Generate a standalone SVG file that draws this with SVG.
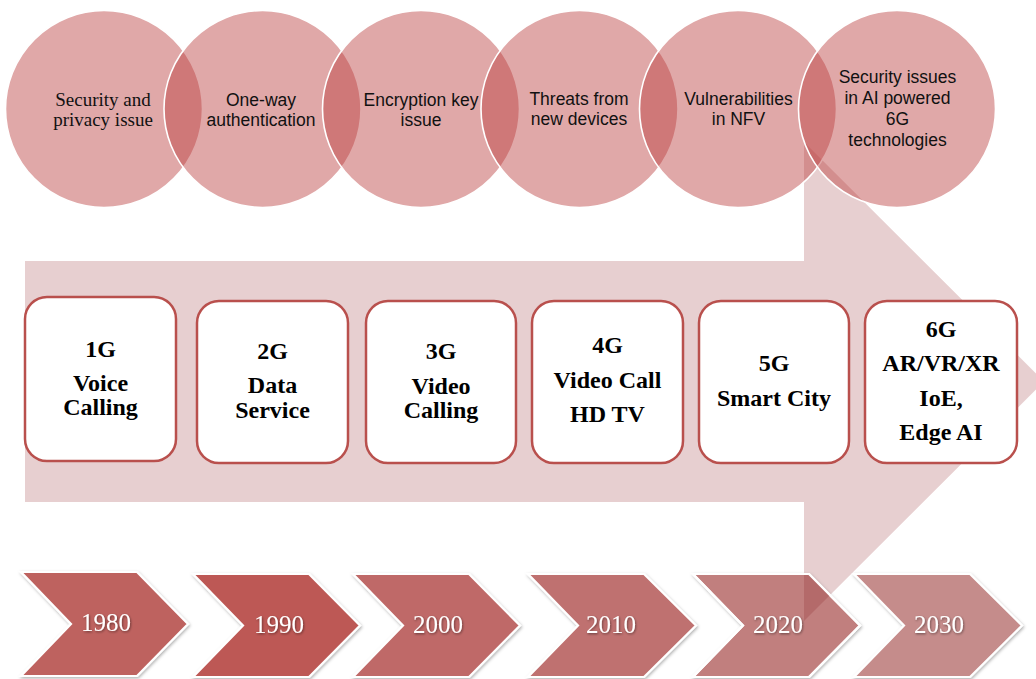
<svg xmlns="http://www.w3.org/2000/svg" width="1036" height="679" viewBox="0 0 1036 679">
<defs>
<style>
.circ{fill:#ba3d3d;fill-opacity:0.45;stroke:#ffffff;stroke-width:1.6}
.ct{font-family:"Liberation Sans",Arial,sans-serif;font-size:17.5px;fill:#111;text-anchor:middle}
.ctser{font-family:"Liberation Serif","Times New Roman",serif;font-size:19px;fill:#111;text-anchor:middle}
.box{fill:#ffffff;stroke:#b9504d;stroke-width:2.5}
.bt{font-family:"Liberation Serif","Times New Roman",serif;font-weight:bold;font-size:24px;fill:#000;text-anchor:middle}
.chev{stroke:#ffffff;stroke-width:2.2;stroke-linejoin:miter}
.yr{font-family:"Liberation Serif","Times New Roman",serif;font-size:25px;fill:#ffffff;text-anchor:middle}
</style>
<filter id="sh" x="-10%" y="-10%" width="130%" height="130%">
<feDropShadow dx="1" dy="1.5" stdDeviation="1.5" flood-color="#000" flood-opacity="0.3"/>
</filter>
<filter id="tsh" x="-10%" y="-20%" width="130%" height="150%">
<feDropShadow dx="0.8" dy="1.2" stdDeviation="0.8" flood-color="#000" flood-opacity="0.45"/>
</filter>
<clipPath id="clip2020"><polygon points="693,574 809,574 860,625.5 809,677 693,677 743,625.5"/></clipPath>
</defs>
<rect width="1036" height="679" fill="#ffffff"/>

<g id="connectors">
<polygon id="timeline-arrow" points="25,261 804,261 804,142 1044,381.5 804,621 804,502 25,502" fill="#e7cfd0"/>
</g>

<g id="issue-1"><circle class="circ" cx="104" cy="109" r="98.5"/>
<text class="ctser" x="103" y="106">Security and</text><text class="ctser" x="103" y="126">privacy issue</text></g>
<g id="issue-2"><circle class="circ" cx="262.5" cy="109" r="98.5"/>
<text class="ct" x="261" y="106">One-way</text><text class="ct" x="261" y="126">authentication</text></g>
<g id="issue-3"><circle class="circ" cx="421" cy="109" r="98.5"/>
<text class="ct" x="421" y="106">Encryption key</text><text class="ct" x="421" y="126">issue</text></g>
<g id="issue-4"><circle class="circ" cx="579.5" cy="109" r="98.5"/>
<text class="ct" x="579" y="105">Threats from</text><text class="ct" x="579" y="125">new devices</text></g>
<g id="issue-5"><circle class="circ" cx="738" cy="109" r="98.5"/>
<text class="ct" x="738.5" y="105">Vulnerabilities</text><text class="ct" x="738.5" y="125">in NFV</text></g>
<g id="issue-6"><circle class="circ" cx="897" cy="109" r="98.5"/>
<text class="ct" x="897.5" y="83">Security issues</text><text class="ct" x="897.5" y="104">in AI powered</text><text class="ct" x="897.5" y="125">6G</text><text class="ct" x="897.5" y="146">technologies</text></g>

<g id="gen-1G"><rect class="box" x="25" y="297" width="151" height="164" rx="22"/>
<text class="bt" x="100.5" y="357">1G</text><text class="bt" x="100.5" y="391">Voice</text><text class="bt" x="100.5" y="415">Calling</text></g>
<g id="gen-2G"><rect class="box" x="197" y="301" width="151" height="162" rx="22"/>
<text class="bt" x="272.5" y="359">2G</text><text class="bt" x="272.5" y="393">Data</text><text class="bt" x="272.5" y="418">Service</text></g>
<g id="gen-3G"><rect class="box" x="366" y="301" width="150" height="162" rx="22"/>
<text class="bt" x="441" y="359">3G</text><text class="bt" x="441" y="394">Video</text><text class="bt" x="441" y="418">Calling</text></g>
<g id="gen-4G"><rect class="box" x="532" y="301" width="151" height="162" rx="22"/>
<text class="bt" x="607.5" y="353">4G</text><text class="bt" x="607.5" y="388">Video Call</text><text class="bt" x="607.5" y="422">HD TV</text></g>
<g id="gen-5G"><rect class="box" x="699" y="301" width="150" height="162" rx="22"/>
<text class="bt" x="774" y="371">5G</text><text class="bt" x="774" y="406">Smart City</text></g>
<g id="gen-6G"><rect class="box" x="865" y="301" width="152" height="162" rx="22"/>
<text class="bt" x="941" y="337">6G</text><text class="bt" x="941" y="371">AR/VR/XR</text><text class="bt" x="941" y="406">IoE,</text><text class="bt" x="941" y="440">Edge AI</text></g>

<g id="year-1980"><polygon class="chev" filter="url(#sh)" fill="#be625f" points="21,572 137,572 188,624 137,676 21,676 71,624"/>
<text class="yr" filter="url(#tsh)" x="106" y="631">1980</text></g>
<g id="year-1990"><polygon class="chev" filter="url(#sh)" fill="#bd5955" points="193,574 309,574 360,625.5 309,677 193,677 243,625.5"/>
<text class="yr" filter="url(#tsh)" x="279" y="633">1990</text></g>
<g id="year-2000"><polygon class="chev" filter="url(#sh)" fill="#bf6967" points="353,574 469,574 520,625.5 469,677 353,677 403,625.5"/>
<text class="yr" filter="url(#tsh)" x="438" y="633">2000</text></g>
<g id="year-2010"><polygon class="chev" filter="url(#sh)" fill="#bf7170" points="528,574 644,574 696,625.5 644,677 528,677 578,625.5"/>
<text class="yr" filter="url(#tsh)" x="611" y="633">2010</text></g>
<g id="year-2020"><polygon class="chev" filter="url(#sh)" fill="#c17f7e" points="693,574 809,574 860,625.5 809,677 693,677 743,625.5"/>
<polygon clip-path="url(#clip2020)" fill="#b46a6a" points="804,142 1044,381.5 804,621"/>
<polygon fill="none" stroke="#ffffff" stroke-width="2.2" points="693,574 809,574 860,625.5 809,677 693,677 743,625.5"/>
<text class="yr" filter="url(#tsh)" x="778" y="633">2020</text></g>
<g id="year-2030"><polygon class="chev" filter="url(#sh)" fill="#c58c8b" points="854,574 970,574 1022,625.5 970,677 854,677 904,625.5"/>
<text class="yr" filter="url(#tsh)" x="939" y="633">2030</text></g>
</svg>
